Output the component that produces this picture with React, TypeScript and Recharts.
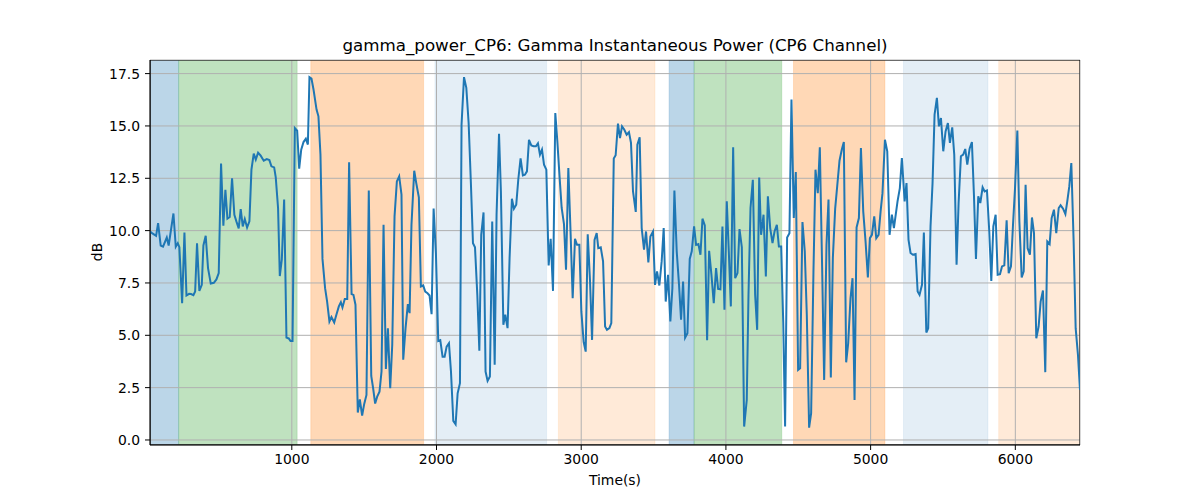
import React from 'react';
import { LineChart, Line, XAxis, YAxis, CartesianGrid, ReferenceArea } from 'recharts';

const segment1: [number, number][] = [
  [20, 9.96], [34, 9.88], [62, 9.75], [76, 10.36], [94, 9.28], [110, 9.23], [136, 9.67], [149, 9.29], [182, 10.82], [198, 9.23],
  [212, 9.4], [223, 9.21], [242, 6.53], [258, 9.91], [272, 6.9], [290, 6.98], [304, 6.97], [320, 6.92], [332, 7.09], [345, 9.39],
  [361, 7.12], [378, 7.41], [389, 9.29], [405, 9.75], [421, 8.21], [440, 7.47], [461, 7.51], [479, 7.67], [495, 7.97], [511, 13.2],
  [527, 10.23], [541, 11.95], [555, 10.57], [571, 10.65], [587, 12.5], [603, 10.76], [617, 10.44], [633, 10.11], [647, 11.03], [661, 10.2],
  [675, 10.55], [691, 10.15], [707, 10.44], [721, 12.91], [737, 13.68], [751, 13.39], [767, 13.72], [785, 13.58], [806, 13.34], [827, 13.42],
  [845, 13.37], [859, 13.07], [878, 13.02], [889, 12.54], [905, 11.08], [917, 7.83], [931, 8.62], [947, 11.49], [963, 4.89], [979, 4.85],
  [991, 4.73], [1005, 4.73],
];

const segment2: [number, number][] = [
  [1021, 14.9], [1037, 14.78], [1051, 12.96], [1065, 13.87], [1081, 14.23], [1097, 14.39], [1111, 14.11], [1122, 17.33], [1136, 17.26], [1150, 16.74],
  [1171, 15.78], [1184, 15.46], [1198, 13.63], [1212, 8.65], [1230, 7.25], [1244, 6.61], [1260, 5.66], [1274, 5.87], [1293, 5.61], [1309, 6.01],
  [1325, 6.38], [1339, 6.58], [1350, 6.33], [1366, 6.73], [1383, 6.73], [1396, 13.26], [1413, 6.97], [1426, 6.93], [1440, 6.46], [1456, 1.31],
  [1470, 1.94], [1486, 1.16], [1500, 1.71], [1516, 2.15], [1532, 11.91], [1549, 3.06], [1562, 2.47], [1576, 1.74], [1590, 2.07], [1606, 2.31],
  [1620, 3.27], [1634, 10.28], [1650, 3.39], [1664, 5.34], [1680, 2.47], [1694, 4.54], [1710, 10.68], [1726, 12.35], [1742, 12.59], [1758, 11.72],
  [1770, 3.83], [1786, 5.34], [1802, 6.49], [1814, 6.06], [1827, 10.28], [1846, 12.86], [1860, 12.27], [1878, 11.59], [1892, 7.33], [1908, 7.38],
  [1922, 7.09], [1938, 7.01], [1952, 6.9], [1966, 6.01], [1980, 11.05], [1996, 8.88], [2012, 4.73], [2026, 4.77], [2042, 3.98], [2056, 3.98],
];

const segment3: [number, number][] = [
  [2070, 4.46], [2086, 4.62], [2100, 3.27], [2116, 0.91], [2132, 0.75], [2146, 2.23], [2162, 2.71], [2173, 15.06], [2190, 17.33], [2206, 16.82],
  [2222, 15.14], [2238, 12.19], [2252, 9.4], [2266, 9.2], [2282, 6.93], [2296, 4.26], [2309, 9.8], [2325, 10.87], [2339, 3.27], [2353, 2.82],
  [2369, 3.03], [2385, 10.44], [2402, 3.59], [2415, 10.76], [2432, 14.63], [2445, 11.87], [2462, 5.5], [2475, 5.98], [2491, 5.34], [2505, 8.69],
  [2521, 11.52], [2535, 11.05], [2551, 11.24], [2565, 12.43], [2581, 13.45], [2597, 12.64], [2611, 12.67], [2625, 12.83], [2639, 14.34], [2655, 14.07],
  [2671, 14.03], [2687, 14.03], [2701, 14.17], [2715, 13.63], [2729, 13.87], [2743, 13.15], [2759, 12.91], [2775, 8.34], [2789, 9.61], [2805, 7.12],
  [2821, 15.62], [2835, 14.27], [2851, 12.51], [2865, 11.08], [2881, 10.31], [2895, 8.13], [2911, 12.99], [2927, 9.8], [2941, 6.77], [2957, 9.61],
  [2971, 9.32], [2987, 9.32], [3001, 6.14], [3017, 4.67], [3031, 4.22], [3045, 9.83], [3061, 7.57], [3075, 4.78],
];

const segment4: [number, number][] = [
  [3092, 9.56], [3107, 9.88], [3118, 9.16], [3135, 9.2], [3151, 8.53], [3165, 5.42], [3178, 5.26], [3195, 5.34], [3208, 5.58], [3225, 13.44],
  [3238, 13.6], [3254, 15.11], [3268, 14.42], [3282, 14.98], [3298, 14.82], [3314, 14.58], [3330, 14.7], [3344, 14.19], [3358, 11.87], [3377, 10.89],
  [3388, 14.11], [3404, 14.46], [3418, 10.12], [3434, 9.09], [3448, 9.96], [3464, 8.48], [3478, 9.72], [3496, 9.96], [3510, 7.41], [3524, 8.05],
  [3540, 7.38], [3556, 8.53], [3570, 10.12], [3584, 6.61], [3600, 7.89], [3616, 5.66], [3630, 7.25], [3644, 11.91], [3660, 9.01], [3676, 7.41],
  [3690, 5.74], [3704, 7.57], [3718, 4.89], [3734, 5.1], [3750, 8.65], [3764, 9.01], [3780, 10.2], [3794, 9.32], [3810, 9.36], [3824, 8.85],
  [3838, 10.57], [3854, 10.25], [3870, 4.77], [3884, 9.04], [3900, 7.89], [3916, 6.53], [3932, 8.21], [3946, 7.22], [3962, 7.2], [3976, 10.2],
  [3990, 6.22], [4006, 11.4], [4020, 9.01], [4034, 6.38], [4050, 13.98], [4064, 7.73], [4080, 7.97], [4094, 10.07], [4110, 9.2], [4126, 0.64],
];

const segment5: [number, number][] = [
  [4144, 1.91], [4156, 6.93], [4170, 11.08], [4186, 12.43], [4202, 6.93], [4216, 5.26], [4230, 12.54], [4243, 9.8], [4260, 10.76], [4276, 7.81],
  [4290, 11.64], [4306, 10.12], [4322, 9.4], [4336, 9.96], [4352, 10.28], [4366, 9.24], [4382, 9.24], [4396, 5.66], [4409, 0.64], [4423, 9.67],
  [4439, 9.88], [4453, 16.26], [4469, 10.6], [4483, 12.8], [4499, 3.35], [4513, 3.43], [4529, 10.41], [4545, 9.01], [4559, 5.98], [4575, 0.59],
  [4589, 1.28], [4605, 8.05], [4619, 12.91], [4635, 11.79], [4649, 13.98], [4665, 8.21], [4679, 2.87], [4695, 9.32], [4709, 11.48], [4725, 2.98],
  [4739, 8.69], [4755, 11.05], [4769, 12.11], [4785, 13.34], [4801, 13.87], [4815, 14.23], [4831, 3.71], [4845, 4.62], [4861, 6.77], [4875, 7.73],
  [4889, 1.91], [4903, 10.15], [4919, 10.6], [4933, 13.95], [4949, 10.92], [4965, 9.48], [4981, 7.76], [4995, 9.64], [5009, 9.8], [5025, 10.68],
  [5039, 9.64], [5055, 9.8], [5069, 10.92], [5082, 11.79], [5099, 14.34], [5115, 13.79], [5131, 9.8], [5147, 10.76], [5161, 10.12],
];

const segment6: [number, number][] = [
  [5186, 11.4], [5202, 12.03], [5216, 13.47], [5235, 11.4], [5248, 12.27], [5262, 9.56], [5276, 8.93], [5292, 8.85], [5311, 8.88], [5325, 7.09],
  [5338, 6.93], [5355, 7.41], [5368, 9.91], [5385, 5.13], [5398, 5.34], [5414, 10.2], [5428, 12.27], [5442, 15.54], [5458, 16.34], [5472, 14.98],
  [5486, 15.38], [5502, 13.79], [5518, 14.74], [5534, 15.14], [5548, 14.19], [5564, 14.93], [5578, 13.63], [5594, 8.37], [5608, 11.32], [5624, 13.55],
  [5640, 13.63], [5654, 13.9], [5668, 13.15], [5684, 13.91], [5700, 14.23], [5714, 11.71], [5728, 8.65], [5744, 11.64], [5758, 11.32], [5774, 12.07],
  [5788, 11.87], [5804, 11.92], [5820, 9.96], [5834, 7.6], [5848, 10.2], [5864, 10.76], [5878, 7.89], [5894, 7.92], [5908, 8.29], [5924, 8.34],
  [5940, 10.49], [5954, 7.97], [5970, 8.29], [5984, 10.28], [5998, 12.03], [6014, 14.78], [6028, 10.44], [6044, 7.76], [6058, 8.05], [6071, 12.19],
  [6085, 9.16], [6101, 8.85], [6115, 10.63], [6129, 9.88], [6145, 4.86], [6161, 5.42], [6175, 6.61], [6191, 7.14], [6207, 3.24], [6221, 9.48],
  [6237, 9.36], [6251, 10.6], [6267, 11.0], [6283, 9.88], [6300, 11.08], [6313, 11.21], [6330, 11.05], [6346, 10.79], [6359, 11.4], [6373, 12.11],
  [6387, 13.23], [6403, 9.48], [6417, 5.34], [6433, 4.06], [6447, 2.39],
];

// shaded intervals: [start, end, color, alpha]
const spans: [number, number, string, number][] = [
  [20, 218, '#1f77b4', 0.3],
  [218, 1037, '#2ca02c', 0.3],
  [1131, 1911, '#ff7f0e', 0.3],
  [1989, 2761, '#1f77b4', 0.12],
  [2842, 3510, '#ff7f0e', 0.16],
  [3607, 3780, '#1f77b4', 0.3],
  [3780, 4386, '#2ca02c', 0.3],
  [4467, 5099, '#ff7f0e', 0.3],
  [5227, 5811, '#1f77b4', 0.12],
  [5885, 6447, '#ff7f0e', 0.16],
];

const xTicks = [1000, 2000, 3000, 4000, 5000, 6000];
const yTicks = [0, 2.5, 5, 7.5, 10, 12.5, 15, 17.5];
const xDomain: [number, number] = [20, 6447];
const yDomain: [number, number] = [-0.24, 18.15];

const data = [...segment1, ...segment2, ...segment3, ...segment4, ...segment5, ...segment6].map(([t, v]) => ({ t, v }));

const font = 'DejaVu Sans, sans-serif';

export default function App() {
  return (
    <div style={{ position: 'absolute', left: 0, top: 0, width: 1200, height: 500, background: '#fff', fontFamily: font }}>
      <LineChart width={1200} height={500} data={data} margin={{ top: 60, right: 120, bottom: 25, left: 90 }}>
        {spans.map(([a, b, c, o], i) => (
          <ReferenceArea
            key={i}
            x1={a}
            x2={b}
            y1={yDomain[0]}
            y2={yDomain[1]}
            fill={c}
            fillOpacity={o}
            stroke={c}
            strokeOpacity={o * 0.6}
            strokeWidth={1}
            ifOverflow="hidden"
            zIndex={-150}
          />
        ))}
        <CartesianGrid stroke="#b0b0b0" strokeWidth={1} vertical horizontal />
        <XAxis
          dataKey="t"
          type="number"
          domain={xDomain}
          ticks={xTicks}
          allowDataOverflow
          height={30}
          tickSize={5}
          tickMargin={4}
          stroke="#000"
          tick={{ fill: '#000', fontSize: 13.9, fontFamily: font }}
          tickLine={{ stroke: '#000' }}
          axisLine={{ stroke: '#000' }}
        />
        <YAxis
          type="number"
          domain={yDomain}
          ticks={yTicks}
          allowDataOverflow
          width={60}
          tickSize={5}
          tickMargin={5}
          tickFormatter={(v: number) => v.toFixed(1)}
          stroke="#000"
          tick={{ fill: '#000', fontSize: 13.9, fontFamily: font }}
          tickLine={{ stroke: '#000' }}
          axisLine={{ stroke: '#000' }}
        />
        <Line type="linear" dataKey="v" stroke="#1f77b4" strokeWidth={2} dot={false} isAnimationActive={false} />
        <ReferenceArea
          x1={xDomain[0]}
          x2={xDomain[1]}
          y1={yDomain[0]}
          y2={yDomain[1]}
          fill="none"
          stroke="#000"
          strokeWidth={1}
          ifOverflow="hidden"
        />
      </LineChart>
      <div style={{ position: 'absolute', left: 150, width: 930, top: 35, textAlign: 'center', fontSize: 16.7, color: '#000', lineHeight: '20px' }}>
        gamma_power_CP6: Gamma Instantaneous Power (CP6 Channel)
      </div>
      <div style={{ position: 'absolute', left: 150, width: 930, top: 472, textAlign: 'center', fontSize: 13.9, color: '#000', lineHeight: '17px' }}>
        Time(s)
      </div>
      <div style={{ position: 'absolute', left: 97, top: 252, width: 0, height: 0 }}>
        <div style={{ position: 'absolute', transform: 'translate(-50%, -50%) rotate(-90deg)', fontSize: 13.9, color: '#000', whiteSpace: 'nowrap', lineHeight: '17px' }}>
          dB
        </div>
      </div>
    </div>
  );
}
